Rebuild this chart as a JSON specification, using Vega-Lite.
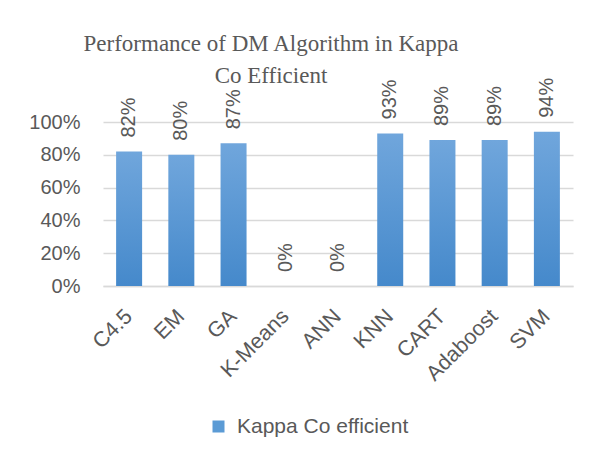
{
  "$schema": "https://vega.github.io/schema/vega-lite/v6.json",
  "width": 470,
  "height": 164,
  "autosize": {"type": "none"},
  "padding": {"left": 103, "top": 122, "right": 18, "bottom": 177},
  "background": "white",
  "title": {
    "text": ["Performance of DM Algorithm in Kappa", "Co Efficient"],
    "font": "Liberation Serif",
    "fontSize": 23,
    "fontWeight": "normal",
    "color": "#595959",
    "anchor": "middle",
    "dx": -67,
    "lineHeight": 32,
    "offset": -10
  },
  "data": {
    "values": [
      {"alg": "C4.5", "value": 0.82},
      {"alg": "EM", "value": 0.80},
      {"alg": "GA", "value": 0.87},
      {"alg": "K-Means", "value": 0},
      {"alg": "ANN", "value": 0},
      {"alg": "KNN", "value": 0.93},
      {"alg": "CART", "value": 0.89},
      {"alg": "Adaboost", "value": 0.89},
      {"alg": "SVM", "value": 0.94}
    ]
  },
  "encoding": {
    "x": {
      "field": "alg",
      "type": "nominal",
      "sort": null,
      "scale": {"paddingInner": 0.5, "paddingOuter": 0.25},
      "axis": {
        "title": null,
        "labelAngle": -45,
        "labelAlign": "right",
        "labelBaseline": "middle",
        "labelPadding": 27,
        "ticks": false,
        "tickSize": 0,
        "domain": true,
        "domainColor": "#d9d9d9",
        "domainWidth": 1.5,
        "labelFont": "Liberation Sans Narrow, Liberation Sans",
        "labelFontSize": 21.5,
        "labelColor": "#595959",
        "grid": false
      }
    },
    "y": {
      "field": "value",
      "type": "quantitative",
      "scale": {"domain": [0, 1]},
      "axis": {
        "title": null,
        "values": [0, 0.2, 0.4, 0.6, 0.8, 1],
        "format": ".0%",
        "grid": true,
        "gridColor": "#d9d9d9",
        "gridWidth": 1.5,
        "domain": false,
        "ticks": false,
        "tickSize": 0,
        "labelPadding": 23,
        "labelFont": "Liberation Sans Narrow, Liberation Sans",
        "labelFontSize": 20,
        "labelColor": "#595959"
      }
    }
  },
  "layer": [
    {
      "mark": {
        "type": "bar",
        "width": 26,
        "fill": {
          "gradient": "linear",
          "x1": 0, "y1": 0, "x2": 0, "y2": 1,
          "stops": [
            {"offset": 0, "color": "#70a6dc"},
            {"offset": 1, "color": "#4589cb"}
          ]
        }
      },
      "encoding": {
        "color": {
          "datum": "Kappa Co efficient",
          "scale": {"range": ["#5b9bd5"]},
          "legend": {
            "title": null,
            "orient": "none",
            "legendX": 105,
            "legendY": 294,
            "symbolType": "square",
            "symbolSize": 144,
            "symbolStrokeWidth": 0,
            "labelFont": "Liberation Sans",
            "labelFontSize": 21,
            "labelColor": "#595959",
            "labelOffset": 8,
            "labelLimit": 0,
            "padding": 0
          }
        }
      }
    },
    {
      "mark": {
        "type": "text",
        "angle": -90,
        "align": "left",
        "baseline": "middle",
        "dx": 14,
        "font": "Liberation Sans Narrow, Liberation Sans",
        "fontSize": 20,
        "color": "#595959"
      },
      "encoding": {
        "text": {"field": "value", "type": "quantitative", "format": ".0%"}
      }
    }
  ],
  "config": {"view": {"stroke": null}}
}
